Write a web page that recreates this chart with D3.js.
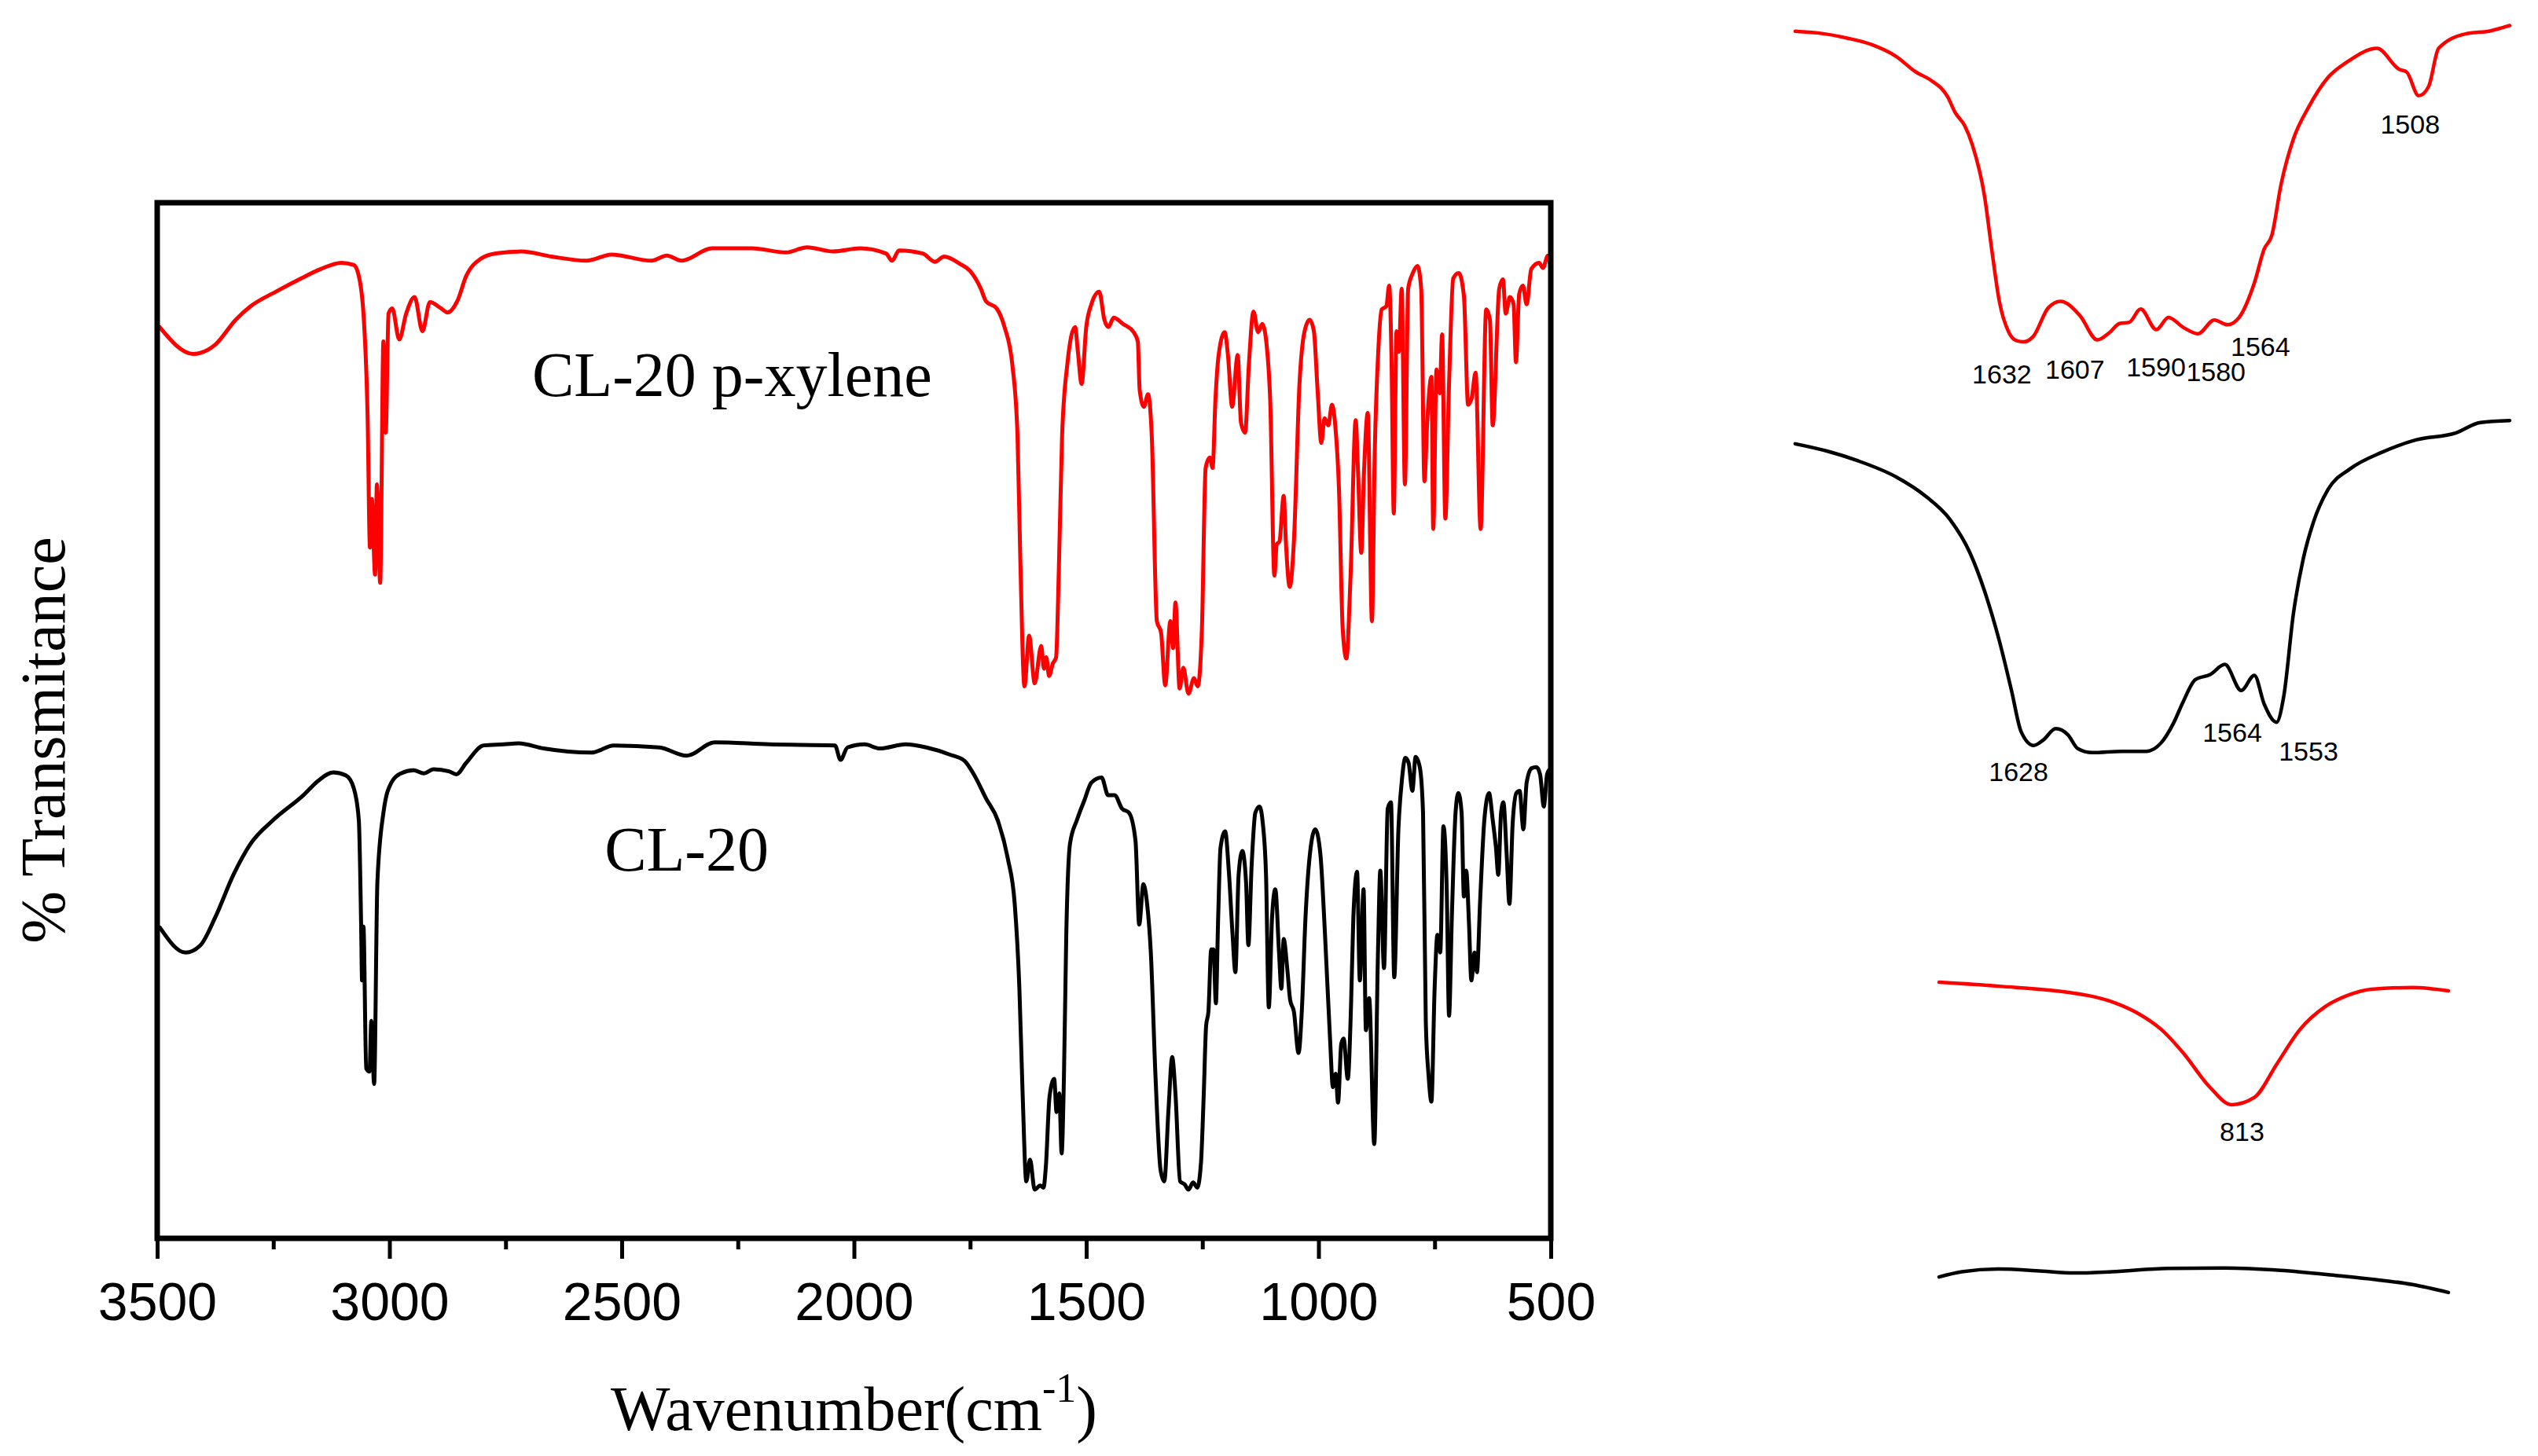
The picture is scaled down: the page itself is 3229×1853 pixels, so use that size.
<!DOCTYPE html>
<html><head><meta charset="utf-8">
<script src="https://cdn.jsdelivr.net/npm/d3@7"></script>
<style>html,body{margin:0;padding:0;background:#fff;}</style>
</head><body>
<script>
// ---------------- DATA ----------------
// Main spectra: [wavenumber (cm-1), % transmittance (arbitrary units, offset stack)]
const redMainWN = [3495,3423,3375,3331,3299,3245,3190,3148,3104,3077,3067,3056,3047,3042,3038,3031,3027,3020,3013,3008,3002,2994,2979,2964,2946,2929,2913,2889,2875,2854,2835,2803,2771,2716,2651,2576,2522,2436,2403,2371,2306,2220,2146,2101,2045,1987,1931,1918,1903,1852,1826,1806,1772,1750,1727,1716,1693,1676,1659,1648,1642,1633,1623,1611,1597,1591,1586,1580,1572,1565,1559,1552,1541,1524,1518,1510,1500,1489,1472,1461,1452,1441,1421,1398,1389,1385,1376,1367,1359,1348,1339,1330,1319,1313,1308,1299,1291,1280,1268,1260,1251,1243,1234,1228,1222,1215,1202,1195,1186,1174,1167,1158,1150,1140,1130,1121,1109,1104,1095,1090,1084,1075,1070,1062,1053,1041,1030,1019,1010,1002,994,987,979,971,964,956,948,940,931,920,915,908,902,894,885,879,871,864,854,848,843,838,832,827,821,814,807,798,787,779,772,766,757,753,746,739,734,727,719,710,698,687,678,670,662,651,639,631,625,611,603,597,588,580,575,568,560,552,542,525,517,506,500];
const redMainT = [88.0,85.4,86.3,88.7,90.0,91.4,92.7,93.6,94.2,94.0,93.1,89.3,79.2,66.7,71.4,64.1,72.8,63.3,86.6,77.8,89.3,89.8,86.8,89.3,90.9,87.6,90.4,89.8,89.4,90.5,92.9,94.6,95.1,95.3,94.8,94.4,95.0,94.4,94.9,94.4,95.6,95.6,95.2,95.7,95.3,95.6,95.1,94.4,95.4,95.1,94.3,94.8,94.1,93.4,91.7,90.5,89.8,88.0,84.3,77.5,65.6,53.3,58.2,53.6,57.2,55.0,56.1,54.3,55.5,56.1,64.6,77.5,84.3,88.0,85.6,82.5,88.0,90.2,91.4,88.7,88.0,88.9,88.3,87.5,86.6,81.9,80.3,81.5,77.5,59.6,58.5,53.4,59.6,57.0,61.4,53.1,55.1,52.6,54.1,53.3,58.9,74.4,75.4,74.4,80.9,85.3,87.5,85.3,80.3,85.3,78.8,77.8,84.3,89.5,87.5,88.3,84.9,80.9,64.0,67.0,67.3,71.7,67.0,62.9,67.3,82.5,87.6,88.7,87.6,81.9,76.8,79.2,78.5,80.5,78.5,72.4,58.9,56.0,64.0,79.0,74.1,66.2,74.1,79.7,59.6,75.8,86.0,89.7,90.0,92.0,85.3,70.0,87.6,85.6,91.7,72.8,91.7,93.1,93.9,91.7,73.1,78.8,83.2,68.5,83.9,81.6,87.3,69.5,82.5,92.7,93.2,91.0,80.5,81.2,83.6,68.5,89.7,88.7,78.5,91.7,92.6,89.3,90.9,90.2,84.6,91.2,92.0,90.2,93.6,94.2,93.7,94.9,93.6];

const blackMainWN = [3494,3439,3407,3375,3336,3299,3250,3185,3153,3121,3094,3077,3066,3061,3059,3056,3050,3043,3039,3033,3026,3013,2996,2975,2948,2926,2905,2872,2856,2835,2797,2754,2722,2668,2565,2517,2419,2360,2300,2182,2041,2029,2014,1977,1945,1889,1844,1793,1762,1742,1716,1690,1669,1654,1644,1637,1629,1621,1611,1599,1592,1587,1579,1569,1564,1558,1553,1548,1543,1535,1520,1504,1489,1467,1453,1439,1423,1408,1394,1386,1377,1369,1361,1351,1340,1332,1323,1315,1308,1298,1288,1280,1270,1261,1253,1247,1242,1237,1231,1226,1221,1216,1211,1201,1193,1185,1179,1172,1164,1156,1151,1144,1136,1127,1120,1113,1107,1100,1093,1085,1080,1075,1067,1061,1053,1043,1036,1028,1017,1007,996,986,975,969,963,958,951,946,937,930,925,917,911,903,898,891,880,872,867,859,851,844,837,828,821,813,806,798,791,782,775,769,763,757,750,744,738,731,724,719,713,705,699,692,687,682,676,671,664,659,652,643,633,625,618,613,607,602,595,589,582,574,567,559,552,541,531,523,515,508,504];
const blackMainT = [30.0,27.6,28.3,31.0,35.1,38.1,40.4,42.8,44.2,45.0,44.7,43.5,40.4,30.3,24.9,30.1,16.4,16.1,21.0,14.9,34.4,41.1,44.0,44.9,45.2,44.9,45.3,45.1,44.8,45.9,47.6,47.7,47.8,47.3,46.9,47.6,47.4,46.6,47.9,47.7,47.6,46.2,47.4,47.7,47.3,47.7,47.4,46.7,46.1,44.8,42.5,40.3,36.7,32.3,24.2,14.0,5.5,7.6,4.7,5.1,4.9,6.9,13.7,15.4,12.2,14.0,8.2,15.7,29.3,38.1,40.4,42.3,44.0,44.5,42.8,42.8,41.5,41.1,38.4,30.3,34.2,32.3,27.6,15.7,6.6,5.5,12.4,17.5,14.0,5.5,5.2,4.7,5.4,4.9,7.3,14.0,20.5,21.9,27.9,27.9,22.7,31.0,37.7,39.3,35.4,29.3,25.7,35.1,37.4,34.4,28.3,36.0,41.1,41.7,40.1,35.1,22.3,31.0,33.7,27.6,24.1,28.9,25.9,23.0,21.9,17.9,21.9,31.0,37.7,39.5,37.1,29.3,19.1,14.6,15.9,13.1,18.8,19.3,15.4,22.5,31.0,35.4,24.9,33.7,20.1,23.2,9.1,27.6,35.5,26.1,41.5,42.1,25.2,39.5,44.0,46.4,45.9,43.2,46.5,45.5,41.1,20.8,15.7,13.2,24.2,29.3,27.6,39.8,33.7,21.5,31.0,41.1,43.0,41.1,33.0,35.5,30.3,24.9,27.6,25.7,32.7,40.4,43.0,40.4,37.7,35.1,41.1,42.1,37.1,32.3,40.1,43.0,43.2,39.5,44.0,45.4,45.5,44.8,41.7,44.8,45.2];

// Inset spectra (1700-1480 cm-1 region)
const redInsetWN = [1703,1696.0,1686.8,1679.2,1671.5,1665.4,1660.8,1655.4,1653.1,1650.1,1647.8,1643.9,1641.7,1639.3,1636.3,1634.0,1631.7,1628.7,1624.0,1620.2,1614.1,1608.7,1604.9,1601.8,1598.7,1595.2,1590.3,1586.5,1581.9,1577.3,1572.2,1568.1,1564.3,1559.7,1556.6,1554.3,1551.3,1547.5,1542.8,1536.7,1530.6,1521.4,1514.5,1512.2,1508.4,1505.3,1502.2,1493.8,1486.2,1480.0];
const redInsetT = [97.6,97.1,95.5,93.5,89.8,85.0,82.5,77.2,72.4,68.3,62.6,46.3,30.1,13.8,4.1,1.6,1.2,2.9,11.8,13.8,9.3,1.8,4.1,6.9,7.3,11.4,5.0,8.8,5.7,3.7,8.0,6.5,9.0,19.5,30.1,34.1,50.4,64.2,74.0,83.3,88.2,92.3,85.8,85.0,77.6,80.5,92.3,96.8,97.7,99.4];
const blackInsetWN = [1703,1692.9,1683.8,1671.5,1662.3,1654.7,1648.5,1643.9,1639.3,1635.5,1632.5,1628.6,1625.6,1621.7,1617.9,1614.8,1610.3,1601.0,1593.4,1588.8,1585.0,1581.9,1578.1,1573.5,1568.9,1563.8,1559.7,1556.6,1552.8,1550.5,1547.5,1544.4,1541.3,1536.7,1529.8,1519.9,1509.1,1496.9,1489.2,1480.0];
const blackInsetT = [91.9,89.7,87.0,82.1,76.4,69.5,59.7,48.3,33.6,18.9,6.7,2.6,4.2,7.6,5.8,1.7,0.5,0.9,0.9,3.4,9.1,15.6,22.1,23.6,26.6,18.9,23.4,14.8,9.5,17.3,41.7,58.0,68.6,78.4,84.5,89.4,93.1,95.1,98.2,98.8];

// Inset spectra (~846-788 cm-1 region), stacked
const redLowWN = [846.0,839.2,831.4,828.5,825.9,823.3,820.7,818.2,815.2,812.7,810.1,807.5,804.9,802.1,799.5,796.8,792.1,788.0];
const redLowT = [97.6,96.4,94.6,93.3,91.3,88.1,83.3,76.2,65.9,60.5,62.7,73.0,83.3,90.1,93.6,95.5,96.0,95.0];
const blackLowWN = [846,843.4,839.2,834.9,830.6,826.3,819.9,813.5,807.1,800.6,796.3,792.1,788];
const blackLowT = [8.3,9.9,10.7,10.2,9.5,9.9,10.9,11.0,10.3,8.7,7.5,6.0,3.6];

// Axis ticks
const majorTicks = [3500,3000,2500,2000,1500,1000,500];
const minorTicks = [3250,2750,2250,1750,1250,750];

// Text annotations [label, wavenumber, T]
const mainLabels = [["CL-20 p-xylene",2693,81.3],["CL-20",2537,35.5]];
const redInsetLabels = [["1632",1638.5,-11.7],["1607",1615.7,-10.2],["1590",1590.4,-9.5],["1580",1571.7,-11.0],["1564",1557.8,-3.2],["1508",1511.1,65.9]];
const blackInsetLabels = [["1628",1633.3,-8.0],["1564",1566.6,3.8],["1553",1542.8,-1.9]];
const lowLabels = [["813",811.5,49.6]];

// ---------------- DRAWING ----------------
const W = 3229, H = 1853;
const svg = d3.select("body").append("svg").attr("width", W).attr("height", H)
  .style("background","#fff");

const RED = "#ff0000";
const serif = "'Liberation Serif','Times New Roman',serif";
const sans = "'Liberation Sans',Arial,sans-serif";

// main scales
const M = {l:200, r:1973, t:258, b:1576};
const x = d3.scaleLinear().domain([3500,500]).range([M.l, M.r]);
const y = d3.scaleLinear().domain([0,100]).range([M.b, M.t]);

const zipped = (a,b) => a.map((v,i)=>[v,b[i]]);

function drawLine(g, xs, ys, wn, t, color, width){
  const line = d3.line().x(d=>xs(d[0])).y(d=>ys(d[1])).curve(d3.curveMonotoneX);
  g.append("path").datum(zipped(wn,t)).attr("d", line)
    .attr("fill","none").attr("stroke", color).attr("stroke-width", width)
    .attr("stroke-linejoin","round").attr("stroke-linecap","round");
}

const main = svg.append("g");
drawLine(main, x, y, redMainWN, redMainT, RED, 5);
drawLine(main, x, y, blackMainWN, blackMainT, "#000", 5);

// frame
main.append("rect").attr("x",M.l).attr("y",M.t).attr("width",M.r-M.l).attr("height",M.b-M.t)
  .attr("fill","none").attr("stroke","#000").attr("stroke-width",7);

// bottom axis
const axMaj = d3.axisBottom(x).tickValues(majorTicks).tickSize(26).tickSizeOuter(0).tickPadding(30)
  .tickFormat(d3.format("d"));
const gAx = svg.append("g").attr("transform",`translate(0,${M.b})`).call(axMaj);
gAx.select(".domain").remove();
gAx.selectAll(".tick line").attr("stroke","#000").attr("stroke-width",5);
gAx.selectAll(".tick text").attr("font-family",sans).attr("font-size",68).attr("fill","#000")
  .attr("dy","0.71em");
const axMin = d3.axisBottom(x).tickValues(minorTicks).tickSize(14).tickFormat("");
const gMin = svg.append("g").attr("transform",`translate(0,${M.b})`).call(axMin);
gMin.select(".domain").remove();
gMin.selectAll(".tick line").attr("stroke","#000").attr("stroke-width",5);

// axis titles
const xt = svg.append("text").attr("x",(M.l+M.r)/2).attr("y",1820).attr("text-anchor","middle")
  .attr("font-family",serif).attr("font-size",80).attr("fill","#000");
xt.append("tspan").text("Wavenumber(cm");
xt.append("tspan").attr("dy",-36).attr("font-size",52).text("-1");
xt.append("tspan").attr("dy",36).text(")");

svg.append("text").attr("transform",`translate(82,${(M.t+M.b)/2+25}) rotate(-90)`)
  .attr("text-anchor","middle").attr("font-family",serif).attr("font-size",80).attr("fill","#000")
  .text("% Transmitance");

// main labels
main.selectAll("text.lbl").data(mainLabels).enter().append("text")
  .attr("x",d=>x(d[1])).attr("y",d=>y(d[2]))
  .attr("font-family",serif).attr("font-size",80).attr("fill","#000").text(d=>d[0]);

// insets
const xi = d3.scaleLinear().domain([1703,1480]).range([2284,3193]);
const yi1 = d3.scaleLinear().domain([0,100]).range([440,30]);
const yi2 = d3.scaleLinear().domain([0,100]).range([960,530]);
const xl = d3.scaleLinear().domain([846,788]).range([2467,3115]);
const yl = d3.scaleLinear().domain([0,100]).range([1660,1240]);

const ins = svg.append("g");
drawLine(ins, xi, yi1, redInsetWN, redInsetT, RED, 4.5);
drawLine(ins, xi, yi2, blackInsetWN, blackInsetT, "#000", 4.5);
drawLine(ins, xl, yl, redLowWN, redLowT, RED, 4.5);
drawLine(ins, xl, yl, blackLowWN, blackLowT, "#000", 4.5);

function labels(data, xs, ys){
  ins.append("g").selectAll("text").data(data).enter().append("text")
    .attr("x",d=>xs(d[1])).attr("y",d=>ys(d[2])).attr("text-anchor","middle")
    .attr("font-family",sans).attr("font-size",34).attr("fill","#000").text(d=>d[0]);
}
labels(redInsetLabels, xi, yi1);
labels(blackInsetLabels, xi, yi2);
labels(lowLabels, xl, yl);
</script>
</body></html>
